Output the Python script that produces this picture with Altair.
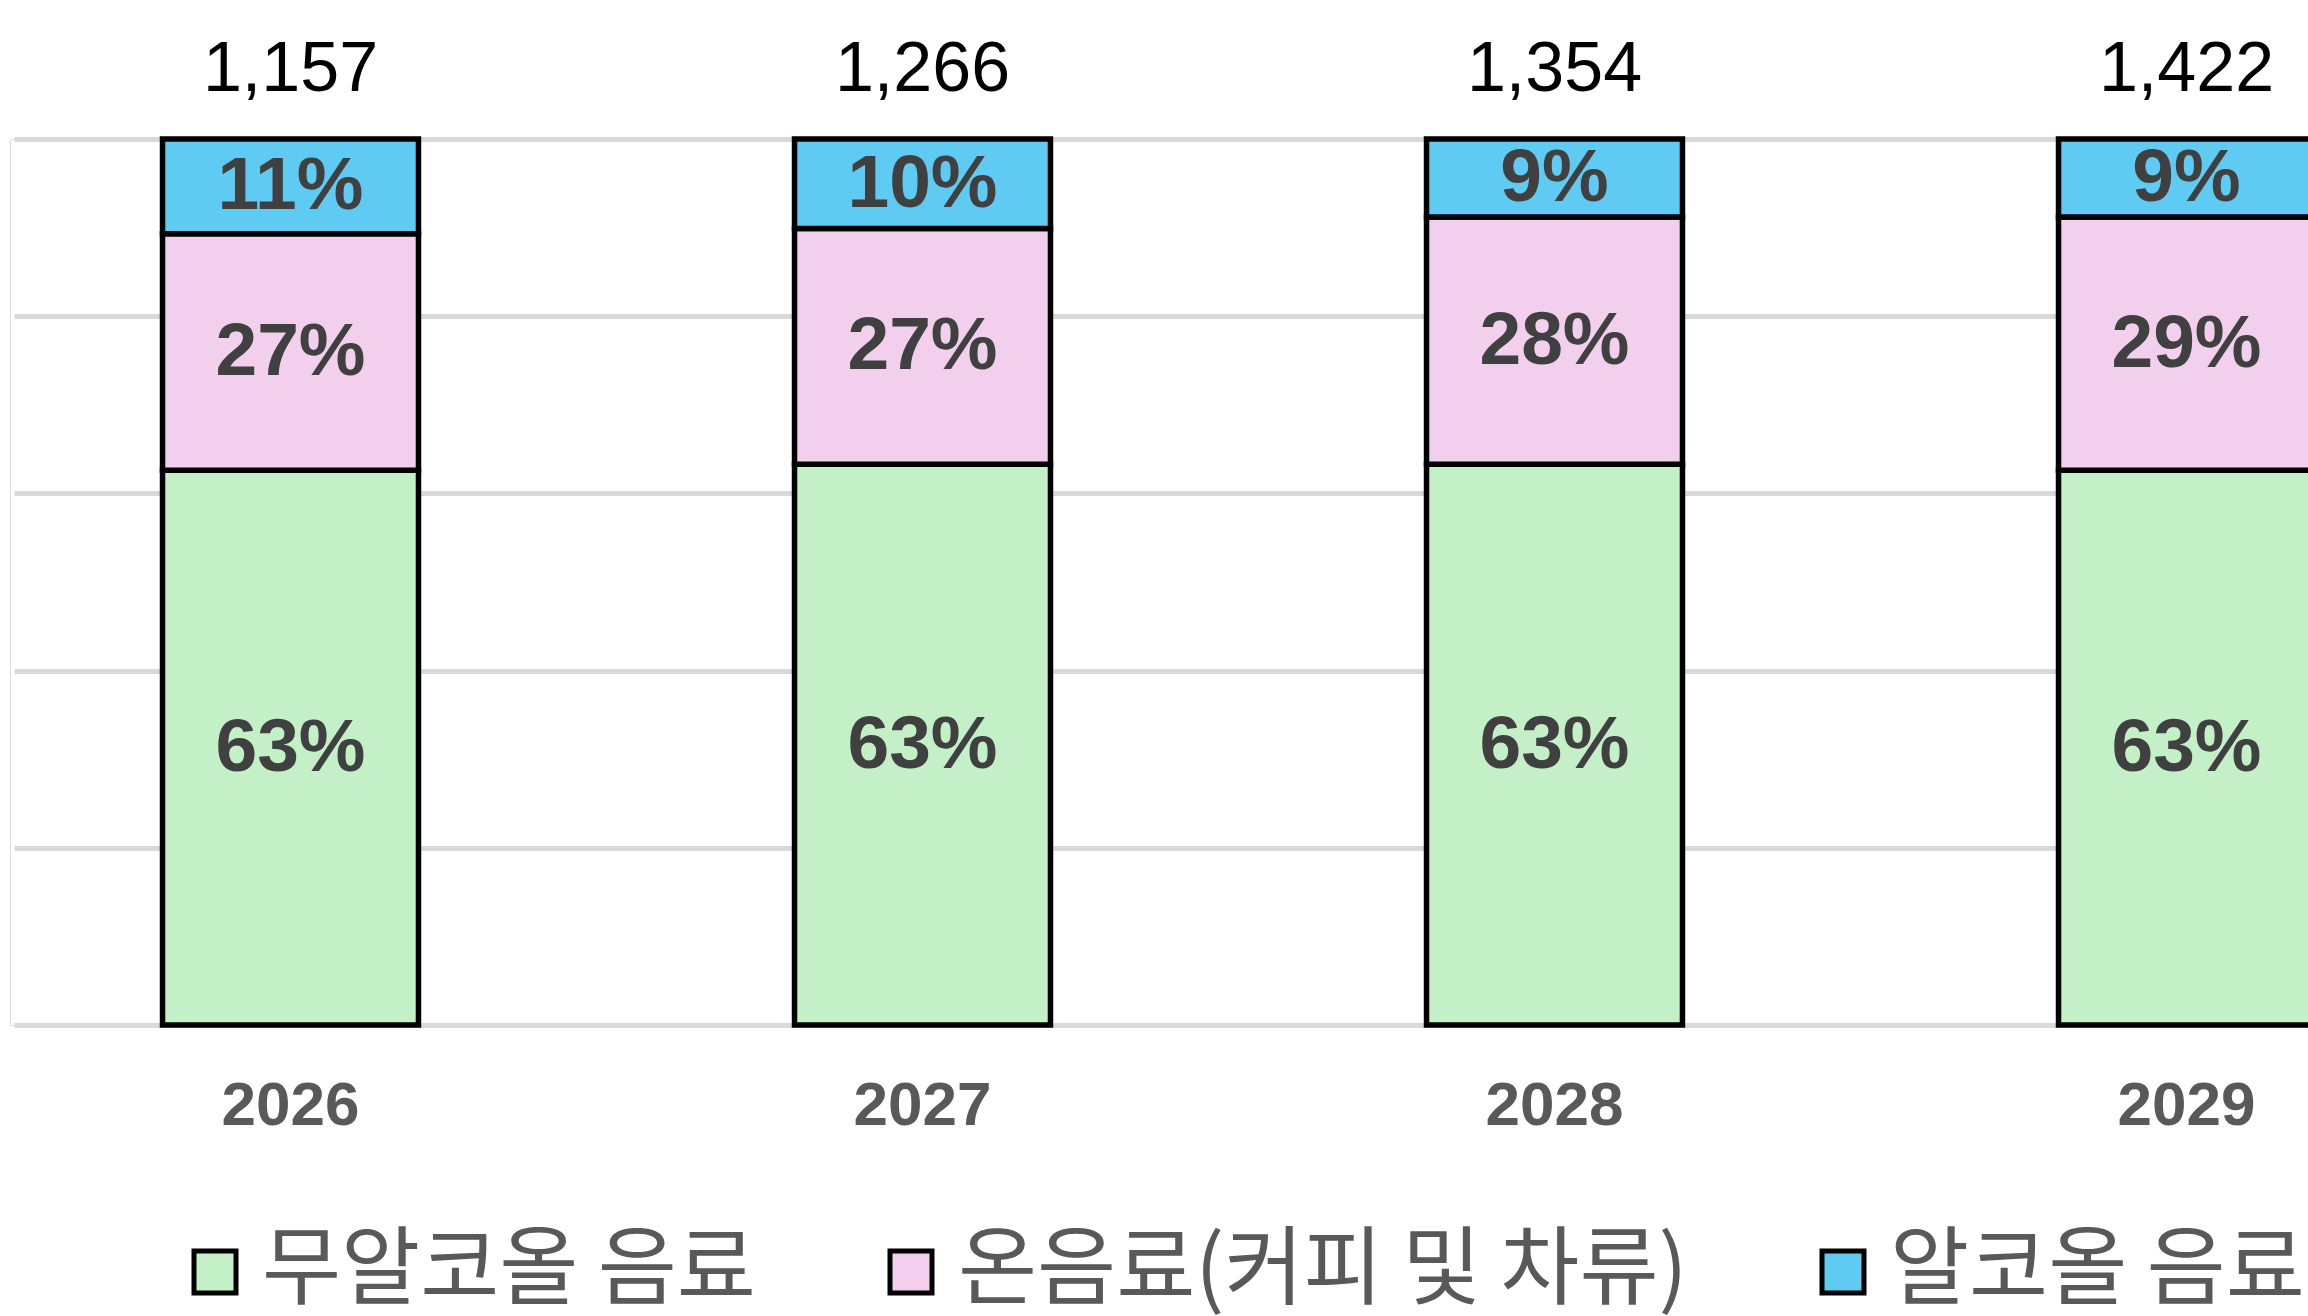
import altair as alt
import pandas as pd

years = ["2026", "2027", "2028", "2029"]
totals = [1157, 1266, 1354, 1422]
categories = ["무알코올 음료", "온음료(커피 및 차류)", "알코올 음료"]
colors = ["#C4F0C8", "#F1CFED", "#5FCAF2"]
share_nonalcohol = [62.6, 63.3, 63.3, 62.6]
share_hot = [26.7, 26.6, 27.9, 28.6]
share_alcohol = [10.7, 10.1, 8.8, 8.8]

rows = []
for i, y in enumerate(years):
    for k, (cat, vals) in enumerate(zip(categories, [share_nonalcohol, share_hot, share_alcohol])):
        rows.append({"year": y, "cat": cat, "idx": k, "share": vals[i],
                     "label": f"{round(vals[i])}%"})
df = pd.DataFrame(rows)
tot_df = pd.DataFrame({"year": years, "total": totals, "top": [100] * len(years)})
tot_df["label"] = tot_df["total"].map(lambda v: f"{v:,}")

x_enc = alt.X("year:N", sort=years,
              scale=alt.Scale(range=[4, 2453], paddingInner=0.595, paddingOuter=0.235),
              axis=alt.Axis(title=None, ticks=False, domain=False, labelAngle=0,
                            labelFontSize=62, labelFontWeight="bold", labelColor="#595959",
                            labelFont="Liberation Sans", labelPadding=50, grid=False))
y_scale = alt.Scale(domain=[0, 100], nice=False)
y_axis = alt.Axis(title=None, labels=False, ticks=False, domain=False, grid=True,
                  values=[0, 20, 40, 60, 80, 100], gridColor="#D9D9D9", gridWidth=5)

base = alt.Chart(df).transform_stack(
    stack="share", as_=["y0", "y1"], groupby=["year"],
    sort=[alt.SortField("idx", order="ascending")]
).transform_calculate(mid="(datum.y0 + datum.y1) / 2")

bars = base.mark_bar(stroke="black", strokeWidth=5.5).encode(
    x=x_enc,
    y=alt.Y("y0:Q", scale=y_scale, axis=y_axis),
    y2="y1:Q",
    color=alt.Color("cat:N", sort=categories,
                    scale=alt.Scale(domain=categories, range=colors),
                    legend=alt.Legend(title=None, orient="none", direction="horizontal",
                                      legendX=162, legendY=1090,
                                      symbolType="square", symbolSize=1764,
                                      symbolStrokeColor="black", symbolStrokeWidth=5,
                                      labelFont="Noto Sans CJK KR", labelFontSize=86,
                                      labelColor="#595959", labelOffset=4,
                                      columnPadding=112, padding=0, labelLimit=2000)),
)

pct = base.mark_text(font="Liberation Sans", fontSize=75, fontWeight="bold",
                     color="#404040", baseline="middle", align="center").encode(
    x=alt.X("year:N", sort=years),
    y=alt.Y("mid:Q", scale=y_scale),
    text="label:N",
)

tot = alt.Chart(tot_df).mark_text(font="Liberation Sans", fontSize=70, color="black",
                                  baseline="alphabetic", align="center", dy=-48).encode(
    x=alt.X("year:N", sort=years),
    y=alt.Y("top:Q", scale=y_scale),
    text="label:N",
)

chart = alt.layer(bars, pct, tot).properties(
    width=2298, height=886,
    autosize=alt.AutoSizeParams(type="none"),
    padding={"left": 10, "top": 139, "right": 0, "bottom": 291},
).configure_view(strokeWidth=0).configure(background="white")

chart.save("out.html", embed_options={"renderer": "svg", "actions": False})
